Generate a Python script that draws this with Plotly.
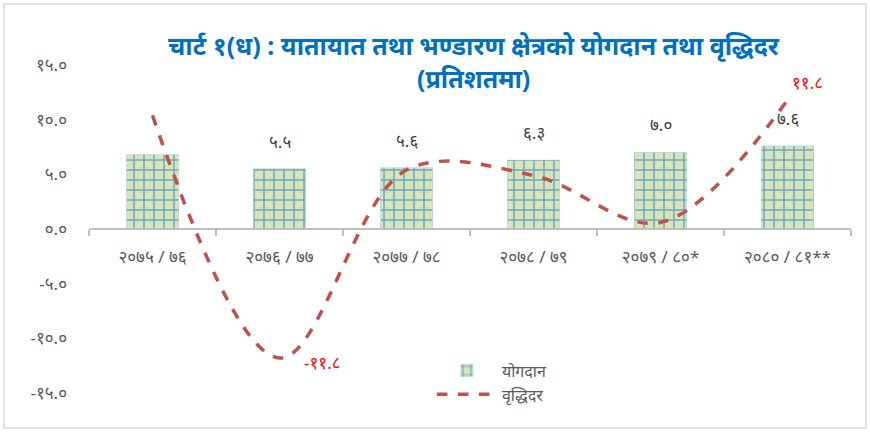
"""Chart 1(ध): transport & storage sector contribution and growth rate."""

import plotly.graph_objects as go

# ---- data ----
years = ["२०७५ / ७६", "२०७६ / ७७", "२०७७ / ७८", "२०७८ / ७९", "२०७९ / ८०*", "२०८० / ८१**"]
contribution = [6.8, 5.5, 5.6, 6.3, 7.0, 7.6]
growth = [10.4, -11.8, 5.4, 4.9, 0.6, 11.8]
contribution_labels = ["", "५.५", "५.६", "६.३", "७.०", "७.६"]
growth_labels = ["", "-११.८", "", "", "", "११.८"]
ytick_vals = [-15, -10, -5, 0, 5, 10, 15]
ytick_text = ["-१५.०", "-१०.०", "-५.०", "०.०", "५.०", "१०.०", "१५.०"]

BLUE = "#0070C0"
BRICK_BG = "#D8E4BC"
LINE_RED = "#C0504D"
LABEL_RED = "#FF0000"
TEXT = "#404040"
MUTED = "#595959"
AXIS = "#BFBFBF"
FONT = "'Noto Sans', 'Noto Sans Devanagari', sans-serif"

fig = go.Figure()

fig.add_bar(
    x=years, y=contribution, name="योगदान",
    width=0.41,
    marker=dict(
        color=BRICK_BG,
        line=dict(color="#9CC3D9", width=0.5),
        pattern=dict(shape="+", fgcolor=BLUE, bgcolor=BRICK_BG, size=10, solidity=0.28),
    ),
)

fig.add_scatter(
    x=years, y=growth, name="वृद्धिदर",
    mode="lines",
    line=dict(color=LINE_RED, width=3.5, dash="dash", shape="spline", smoothing=1.0),
)

# data labels above bars
for x, y, t in zip(years, contribution, contribution_labels):
    if t:
        fig.add_annotation(
            x=x, y=y, text=t, showarrow=False, yanchor="bottom", yshift=14,
            font=dict(color=TEXT, size=17, family=FONT),
        )

# growth labels
for x, y, t in zip(years, growth, growth_labels):
    if t:
        fig.add_annotation(
            x=x, y=y, text=t, showarrow=False, xanchor="left", yanchor="middle",
            xshift=(22 if y < 0 else 2), yshift=(-4 if y < 0 else 17),
            font=dict(color=LABEL_RED, size=17, family=FONT),
        )

# title (two lines)
fig.add_annotation(
    xref="paper", yref="paper", x=0.505, y=1.118, showarrow=False,
    text="<b>चार्ट १(ध) : यातायात तथा भण्डारण क्षेत्रको योगदान तथा वृद्धिदर</b>",
    font=dict(color=BLUE, size=25, family=FONT),
)
fig.add_annotation(
    xref="paper", yref="paper", x=0.505, y=1.017, showarrow=False,
    text="<b>(प्रतिशतमा)</b>",
    font=dict(color=BLUE, size=25, family=FONT),
)

# outer frame
fig.add_shape(
    type="rect", xref="paper", yref="paper",
    x0=-0.1115, x1=1.0197, y0=-0.107, y1=1.186,
    line=dict(color="#D9D9D9", width=1.5), fillcolor="rgba(0,0,0,0)", layer="below",
)

fig.update_layout(
    width=870, height=432,
    paper_bgcolor="white", plot_bgcolor="white",
    margin=dict(l=89, r=19, t=65, b=39, autoexpand=False),
    font=dict(family=FONT, color=MUTED, size=15),
    showlegend=True,
    legend=dict(
        x=0.45, y=0.12, xanchor="left", yanchor="top",
        bgcolor="rgba(0,0,0,0)", font=dict(size=16, color=MUTED),
        tracegroupgap=0, itemwidth=60,
    ),
    xaxis=dict(
        anchor="free", position=0.5, automargin=False,
        showline=True, linecolor=AXIS, linewidth=1.5,
        ticks="outside", tickson="boundaries", ticklen=6, tickcolor=AXIS, tickwidth=1.5,
        ticklabelstandoff=13,
        tickfont=dict(size=17, color=MUTED),
        showgrid=False, zeroline=False,
    ),
    yaxis=dict(
        range=[-15, 15], tickvals=ytick_vals, ticktext=ytick_text, automargin=False,
        showgrid=False, zeroline=False, showline=False,
        ticks="", ticklabelstandoff=21,
        tickfont=dict(size=17, color=MUTED),
    ),
)

# drop the browser's default page margin so the figure sits at the window origin
fig.write_html(
    "out.html",
    config={"displayModeBar": False},
    post_script="document.body.style.margin='0';",
)
